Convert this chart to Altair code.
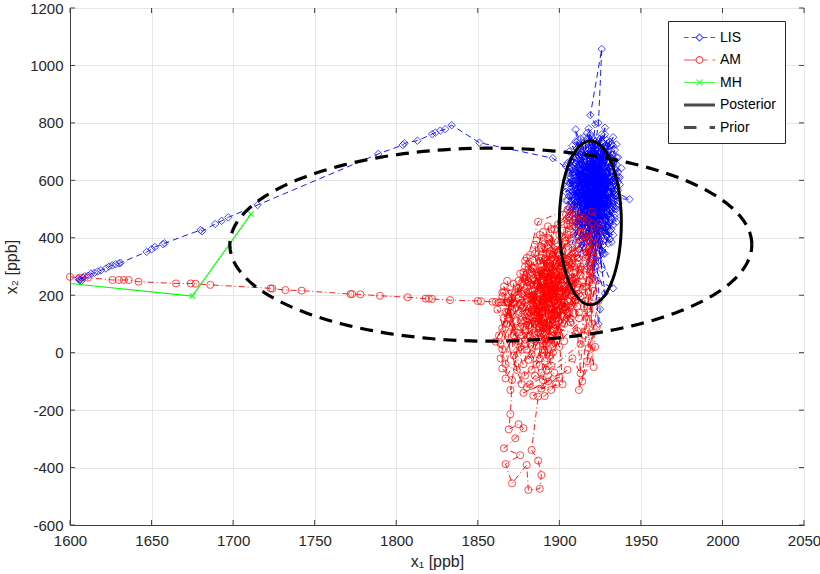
import altair as alt
import pandas as pd
import numpy as np

# ---------------- data ----------------
LIS_PATH = [(1606,252),(1605,258),(1607,250),(1606,255),(1608,262),(1609,266),(1611,268),(1613,275),(1615,278),(1617,283),
            (1619,287),(1622,293),(1624,300),(1626,304),(1628,308),(1630,311),(1631,313),(1647,351),(1650,360),(1652,368),
            (1657,378),(1658,381),(1680,427),(1681,423),(1689,448),(1693,459),(1697,471),(1715,514),(1789,692),(1804,723),
            (1805,729),(1813,738),(1822,761),(1824,766),(1827,773),(1830,778),(1834,792),(1851,731),(1896,677)]

LIS_CLUSTER = [(1912,612),(1925,455),(1918,688),(1908,520),(1930,590),(1915,402),(1922,735),(1910,560),(1934,480),(1919,645),
               (1906,470),(1927,700),(1916,350),(1929,535),(1913,665),(1921,430),(1937,610),(1909,585),(1924,505),(1918,780),
               (1926,640),(1911,455),(1931,545),(1920,380),(1914,710),(1928,600),(1907,630),(1923,470),(1933,660),(1917,525),
               (1912,390),(1926,575),(1919,720),(1935,510),(1910,610),(1922,315),(1929,690),(1915,495),(1924,620),(1908,545),
               (1931,425),(1918,655),(1926,760),(1913,580),(1920,470),(1936,565),(1911,675),(1927,345),(1917,605),(1930,500),
               (1922,725),(1909,440),(1925,590),(1919,530),(1934,640),(1914,365),(1928,555),(1921,700),(1912,515),(1932,470),
               (1916,630),(1924,410),(1910,585),(1929,665),(1918,455),(1926,540),(1943,534),(1921,600),(1913,745),(1927,480),
               (1917,300),(1931,615),(1908,560),(1923,685),(1915,520),(1928,435),(1920,650),(1935,580),(1911,490),(1926,710),
               (1918,390),(1924,565),(1910,635),(1930,525),(1916,455),(1922,795),(1919,827),(1926,1057),(1924,800),(1920,640),
               (1933,505),(1913,600),(1927,375),(1917,545),(1929,720),(1912,475),(1925,620),(1921,260),(1933,224),(1925,340),
               (1918,585),(1930,690),(1909,510),(1923,445),(1936,595),(1914,680),(1926,500),(1920,555),(1931,395),(1916,625),
               (1924,735),(1911,540),(1929,460),(1919,600),(1925,151),(1924,100),(1921,330),(1927,560),(1913,430),(1922,670),
               (1932,545),(1917,490),(1928,615),(1910,660),(1926,420),(1920,715),(1934,565),(1915,505),(1923,590),(1930,645),
               (1912,405),(1921,480),(1927,705),(1918,535),(1938,642),(1916,575),(1925,360),(1910,500),(1929,625),(1919,455),
               (1924,685),(1913,550),(1931,470),(1920,610),(1910,777),(1915,520),(1931,734),(1926,590),(1922,445),(1928,783),
               (1918,600),(1933,520),(1914,660),(1925,480),(1920,560),(1928,207),(1922,300),(1917,620),(1927,530),(1921,575)]

LIS_CLUSTER_B = [(1906,700),(1929,410),(1914,590),(1933,690),(1908,380),(1925,745),(1917,460),(1935,620),(1911,530),(1927,660),
                 (1905,610),(1921,390),(1932,575),(1916,720),(1924,520),(1909,650),(1930,445),(1919,760),(1913,485),(1928,580),
                 (1907,545),(1934,705),(1920,425),(1912,625),(1926,355),(1918,695),(1931,495),(1910,570),(1923,640),(1915,410),
                 (1936,540),(1908,675),(1922,560),(1929,740),(1914,450),(1925,600),(1917,335),(1932,650),(1911,600),(1927,505),
                 (1906,560),(1921,715),(1933,445),(1916,545),(1924,660),(1912,360),(1930,590),(1919,500),(1935,680),(1909,620),
                 (1926,465),(1915,750),(1922,520),(1928,395),(1913,640),(1931,560),(1918,420),(1907,590),(1925,700),(1920,280),
                 (1929,515),(1911,710),(1934,605),(1916,485),(1923,575),(1910,405),(1927,730),(1919,660),(1932,430),(1914,555),
                 (1905,530),(1926,620),(1921,450),(1917,690),(1930,555),(1912,580),(1924,375),(1908,495),(1928,650),(1920,530),
                 (1933,720),(1915,605),(1922,425),(1909,565),(1931,680),(1918,310),(1926,545),(1913,700),(1929,590),(1916,440),
                 (1935,500),(1911,645),(1923,485),(1920,750),(1927,600),(1907,520),(1932,610),(1918,470),(1925,670),(1914,525),
                 (1930,380),(1921,635),(1910,455),(1928,710),(1917,560),(1934,545),(1912,685),(1924,440),(1919,590),(1926,290),
                 (1922,610),(1906,640),(1931,505),(1915,370),(1929,640),(1920,500),(1913,610),(1927,450),(1918,730),(1924,540),
                 (1933,595),(1909,530),(1926,675),(1916,400),(1921,560),(1930,730),(1912,440),(1925,515),(1919,690),(1928,470)]

LIS_CLUSTER_C = [(1904,650),(1936,520),(1910,735),(1933,410),(1907,480),(1930,700),(1912,330),(1935,655),(1905,575),(1928,760),
                 (1915,615),(1937,585),(1906,505),(1932,385),(1913,690),(1927,540),(1904,600),(1931,640),(1919,355),(1934,470),
                 (1908,720),(1926,430),(1911,555),(1936,680),(1916,500),(1929,610),(1905,660),(1933,540),(1921,740),(1909,465),
                 (1930,410),(1914,635),(1935,725),(1907,610),(1924,320),(1932,690),(1910,520),(1928,505),(1917,765),(1934,590),
                 (1906,545),(1925,395),(1912,655),(1931,455),(1908,590),(1927,625),(1915,475),(1936,630),(1904,560),(1923,705),
                 (1930,480),(1913,520),(1933,750),(1918,645),(1909,415),(1929,570),(1911,690),(1935,455),(1920,600),(1906,625),
                 (1926,735),(1914,395),(1932,520),(1907,665),(1924,480),(1931,605),(1916,710),(1910,545),(1928,345),(1934,670),
                 (1905,495),(1922,650),(1929,435),(1913,575),(1936,610),(1919,525),(1908,645),(1927,690),(1912,460),(1933,560),
                 (1917,405),(1930,665),(1906,590),(1925,555),(1911,735),(1935,545),(1921,470),(1909,600),(1932,725),(1915,560),
                 (1928,420),(1904,530),(1923,610),(1934,500),(1910,680),(1926,515),(1918,750),(1931,585),(1913,440),(1929,680)]

AM_PATH = [(1600,264),(1606,261),(1611,261),(1626,253),(1630,253),(1633,253),(1636,253),(1642,247),(1665,241),(1674,241),
           (1677,240),(1686,236),(1723,224),(1724,223),(1732,218),(1742,216),(1772,204),(1773,204),(1778,203),(1790,198),
           (1807,193),(1818,188),(1820,188),(1822,187),(1833,183),(1850,180),(1852,179),(1859,177),(1861,176),(1863,175),
           (1864,176),(1866,175),(1868,175),(1869,176),(1871,174),(1872,175),(1865,209)]

AM_BLOB_A = [(1880,160),(1895,250),(1888,90),(1902,310),(1884,200),(1898,130),(1891,380),(1877,240),(1905,180),(1889,45),
             (1896,290),(1883,150),(1908,230),(1892,330),(1879,110),(1900,60),(1887,270),(1910,350),(1894,170),(1881,310),
             (1903,100),(1890,215),(1876,20),(1899,260),(1886,130),(1912,290),(1893,400),(1882,190),(1906,140),(1888,-20),
             (1897,225),(1878,280),(1904,380),(1891,85),(1885,345),(1909,200),(1895,30),(1880,230),(1901,315),(1887,165),
             (1914,245),(1892,-60),(1876,140),(1898,195),(1884,260),(1907,420),(1890,120),(1902,270),(1872,60),(1896,340),
             (1883,-5),(1911,160),(1889,285),(1899,80),(1879,200),(1905,250),(1893,150),(1886,390),(1915,310),(1890,10),
             (1900,225),(1881,95),(1908,365),(1894,255),(1877,175),(1903,40),(1888,320),(1912,205),(1896,115),(1884,295)]

AM_TAIL = [(1868,139),(1861,38),(1865,12),(1865,-55),(1871,-95),(1870,-214),(1869,-267),(1875,-249),(1878,-263),(1873,-298),
           (1866,-333),(1876,-357),(1867,-388),(1871,-455),(1880,-391),(1881,-478),(1888,-474),(1889,-426),(1887,-376),(1883,-339),
           (1887,-153),(1891,-151),(1898,-110),(1885,-80),(1880,-120),(1908,-20),(1913,-72)]

AM_BLOB_B = [(1906,475),(1892,240),(1878,-40),(1899,180),(1887,70),(1910,280),(1895,355),(1882,140),(1904,210),(1890,-95),
             (1874,110),(1897,300),(1885,215),(1913,390),(1893,55),(1880,265),(1902,160),(1889,330),(1907,105),(1894,200),
             (1875,250),(1900,410),(1886,25),(1909,175),(1891,275),(1879,80),(1905,325),(1896,0),(1883,185),(1911,240),
             (1888,410),(1898,95),(1872,170),(1903,285),(1890,145),(1916,180),(1894,310),(1881,-25),(1906,230),(1887,195),
             (1899,370),(1877,125),(1910,65),(1892,260),(1885,100),(1904,150),(1895,-45),(1879,300),(1908,205),(1890,360),
             (1901,130),(1884,45),(1913,270),(1897,180),(1882,235),(1906,320),(1891,10),(1875,190),(1900,255),(1888,155),
             (1912,120),(1894,395),(1880,60),(1903,200),(1886,280),(1917,350),(1893,115),(1878,215),(1898,40),(1889,245)]

AM_BLOB_C = [(1885,250),(1899,140),(1880,330),(1906,200),(1891,70),(1883,280),(1909,300),(1894,-10),(1877,205),(1902,355),
             (1888,185),(1914,220),(1896,60),(1881,115),(1904,270),(1890,420),(1873,155),(1897,230),(1886,-40),(1911,330),
             (1893,190),(1879,45),(1901,245),(1889,300),(1907,120),(1884,165),(1916,270),(1895,385),(1878,90),(1903,175),
             (1887,235),(1912,400),(1892,100),(1876,275),(1900,20),(1890,180),(1908,260),(1882,340),(1897,135),(1919,320),
             (1885,70),(1905,445),(1893,265),(1880,10),(1910,185),(1896,205),(1883,125),(1902,330),(1889,-70),(1915,230),
             (1894,345),(1877,60),(1906,295),(1891,150),(1885,375),(1899,215),(1881,250),(1912,140),(1888,85),(1904,390),
             (1895,275),(1875,135),(1909,240),(1890,30),(1884,190),(1901,290),(1918,420),(1892,205),(1879,320),(1907,165),
             (1887,125),(1897,430),(1883,-60),(1913,300),(1894,95),(1880,185),(1903,230),(1889,365),(1911,75),(1886,240),
             (1898,310),(1878,160),(1905,135),(1893,440),(1882,60),(1910,255),(1896,165),(1874,225),(1900,340),(1891,-30),
             (1916,360),(1887,290),(1902,105),(1884,140),(1908,310),(1895,210),(1879,255),(1913,195),(1890,85),(1921,380),
             (1898,255),(1886,170),(1906,410),(1892,30),(1881,290),(1904,160),(1894,230),(1909,345),(1885,110),(1917,460)]

AM_BLOB_D = [(1866,120),(1878,260),(1863,60),(1871,190),(1864,-20),(1876,90),(1868,250),(1874,-60),(1862,150),(1879,30),
             (1867,-90),(1873,210),(1865,85),(1877,-110),(1869,170),(1872,-10),(1880,120),(1866,230),(1875,40),(1870,-130),
             (1918,140),(1923,250),(1915,60),(1921,330),(1917,-30),(1924,180),(1916,410),(1920,100),(1922,20),(1914,-100),
             (1919,280),(1925,390),(1915,160),(1921,-50),(1918,360),(1912,-130),(1923,90),(1916,230),(1920,450),(1913,30),
             (1882,-110),(1895,-130),(1900,-85),(1878,-140),(1893,-100),(1905,-60),(1884,-150),(1897,-70),(1889,-125),(1902,-110),
             (1895,430),(1901,455),(1904,480),(1908,500),(1899,445),(1906,470),(1910,460),(1902,425),(1907,440),(1912,475),
             (1868,100),(1876,165),(1864,30),(1872,240),(1867,-40),(1879,-80),(1870,140),(1874,70),(1865,195),(1877,10)]

AM_EDGE = [(1867,142),(1866,212),(1875,224),(1874,201),(1887,456),(1905,499),(1910,487),(1906,460),(1914,420),(1910,440),
           (1920,491),(1925,451),(1918,395),(1920,350),(1922,300),(1918,250),(1924,420),(1915,470),(1921,215),(1918,16)]

MH_POINTS = [(1596,243),(1675,197),(1711,483)]

PRIOR_CENTER = (1858, 376)
PRIOR_SEMI = (160, 336)
POST_CENTER = (1919, 452)
POST_SEMI = (19, 285)

SERIES = ["LIS", "AM", "MH", "Posterior", "Prior"]
COLORS = ["#0000ff", "#ff0000", "#00ff00", "#000000", "#000000"]

X_TICKS = [1600, 1650, 1700, 1750, 1800, 1850, 1900, 1950, 2000, 2050]
Y_TICKS = [-600, -400, -200, 0, 200, 400, 600, 800, 1000, 1200]

W, H = 734, 517
TICK_LEN = 5


def frame(points):
    return pd.DataFrame({"x": [p[0] for p in points], "y": [p[1] for p in points], "i": list(range(len(points)))})


def ellipse(center, semi):
    t = np.linspace(0, 2 * np.pi, 241)
    return pd.DataFrame({"x": center[0] + semi[0] * np.cos(t), "y": center[1] + semi[1] * np.sin(t), "i": np.arange(len(t))})


lis_df = frame(LIS_PATH + LIS_CLUSTER + LIS_CLUSTER_B + LIS_CLUSTER_C)
am_df = frame(AM_PATH + AM_BLOB_A + AM_TAIL + AM_BLOB_B + AM_BLOB_C + AM_BLOB_D + AM_EDGE)
mh_df = frame(MH_POINTS)
prior_df = ellipse(PRIOR_CENTER, PRIOR_SEMI)
post_df = ellipse(POST_CENTER, POST_SEMI)
xt_df = pd.DataFrame({"x": X_TICKS})
yt_df = pd.DataFrame({"y": Y_TICKS})

FONT = "Liberation Sans"
x_enc = alt.X("x:Q", scale=alt.Scale(domain=[1600, 2050], nice=False, zero=False),
              axis=alt.Axis(values=X_TICKS, title="x₁ [ppb]", labelFlush=False, labelOverlap=False,
                            ticks=False, labelPadding=8, titlePadding=5, labelExpr="'' + datum.value"))
y_enc = alt.Y("y:Q", scale=alt.Scale(domain=[-600, 1200], nice=False, zero=False),
              axis=alt.Axis(values=Y_TICKS, title="x₂ [ppb]", labelOverlap=False,
                            ticks=False, labelPadding=7, titlePadding=10, labelExpr="'' + datum.value"))
order = alt.Order("i:Q")

lis_line = alt.Chart(lis_df).mark_line(color="#0000ff", strokeWidth=0.9, strokeDash=[6, 4]).encode(x=x_enc, y=y_enc, order=order)
lis_pts = alt.Chart(lis_df).mark_point(shape="diamond", color="#0000ff", size=56, strokeWidth=1.0, filled=False).encode(x=x_enc, y=y_enc)
am_line = alt.Chart(am_df).mark_line(color="#ff0000", strokeWidth=0.9, strokeDash=[6, 3, 1, 3]).encode(x=x_enc, y=y_enc, order=order)
am_pts = alt.Chart(am_df).mark_point(shape="circle", color="#ff0000", size=50, strokeWidth=1.0, filled=False).encode(x=x_enc, y=y_enc)
mh_line = alt.Chart(mh_df).mark_line(color="#00ff00", strokeWidth=1.1, clip=True).encode(x=x_enc, y=y_enc, order=order)
mh_pts = alt.Chart(mh_df).mark_point(shape="M-1,-1L1,1M-1,1L1,-1", color="#00ff00", size=30, strokeWidth=1.4,
                                     filled=False, clip=True).encode(x=x_enc, y=y_enc)
post_line = alt.Chart(post_df).mark_line(color="black", strokeWidth=3).encode(x=x_enc, y=y_enc, order=order)
prior_line = alt.Chart(prior_df).mark_line(color="black", strokeWidth=3.2, strokeDash=[13, 8]).encode(x=x_enc, y=y_enc, order=order)

# inward tick marks on all four sides (MATLAB box style)
tick_style = dict(color="#404040", strokeWidth=1)
xt_bottom = alt.Chart(xt_df).mark_rule(**tick_style).encode(x=x_enc, y=alt.value(H), y2=alt.value(H - TICK_LEN))
xt_top = alt.Chart(xt_df).mark_rule(**tick_style).encode(x=x_enc, y=alt.value(0), y2=alt.value(TICK_LEN))
yt_left = alt.Chart(yt_df).mark_rule(**tick_style).encode(y=y_enc, x=alt.value(0), x2=alt.value(TICK_LEN))
yt_right = alt.Chart(yt_df).mark_rule(**tick_style).encode(y=y_enc, x=alt.value(W), x2=alt.value(W - TICK_LEN))

LEGEND_PATHS = [
    "M-2.07,0H-1.45M-1.05,0H-0.5M-0.47,0L0,-0.47L0.47,0L0,0.47ZM0.5,0H1.05M1.45,0H2.07",
    "M-2.07,0H-0.45M0.45,0A0.45,0.45 0 1,1 -0.45,0A0.45,0.45 0 1,1 0.45,0M0.45,0H1.1M1.75,0H2.07",
    "M-2.07,0H2.07M-0.4,-0.4L0.4,0.4M-0.4,0.4L0.4,-0.4",
    "M-2.07,-0.12H2.07M-2.07,0H2.07M-2.07,0.12H2.07",
    "M-2.07,-0.12H-0.4M-2.07,0H-0.4M-2.07,0.12H-0.4M1.35,-0.12H2.07M1.35,0H2.07M1.35,0.12H2.07",
]
legend = alt.Legend(title=None, orient="none", legendX=598, legendY=13, padding=8,
                    strokeColor="#262626", fillColor="white", symbolSize=225, symbolStrokeWidth=1.1,
                    symbolOffset=15, labelOffset=12, labelFontSize=14, labelFont=FONT, labelColor="black",
                    rowPadding=6.5, labelExpr="datum.label + '\u00a0\u00a0\u00a0\u00a0\u00a0'")
legend_df = pd.DataFrame({"s": SERIES})
legend_layer = alt.Chart(legend_df).mark_point(filled=False).encode(
    color=alt.Color("s:N", scale=alt.Scale(domain=SERIES, range=COLORS), legend=legend),
    shape=alt.Shape("s:N", scale=alt.Scale(domain=SERIES, range=LEGEND_PATHS), legend=legend),
).transform_filter("false")

chart = alt.layer(
    xt_bottom, xt_top, yt_left, yt_right,
    lis_line, lis_pts, am_line, am_pts, mh_line, mh_pts, post_line, prior_line, legend_layer
).properties(
    width=W, height=H,
    padding={"left": 70, "top": 8, "right": 16, "bottom": 49},
    autosize=alt.AutoSizeParams(type="none"),
    background="white",
).configure_view(
    stroke="#404040", strokeWidth=1
).configure_axis(
    grid=True, gridColor="#e6e6e6", gridWidth=1, domainColor="#404040", domainWidth=1,
    labelFont=FONT, labelFontSize=15, labelColor="#262626",
    titleFont=FONT, titleFontSize=16, titleFontWeight="normal", titleColor="#262626",
)

chart.save("out.html", embed_options={"renderer": "svg", "actions": False})
